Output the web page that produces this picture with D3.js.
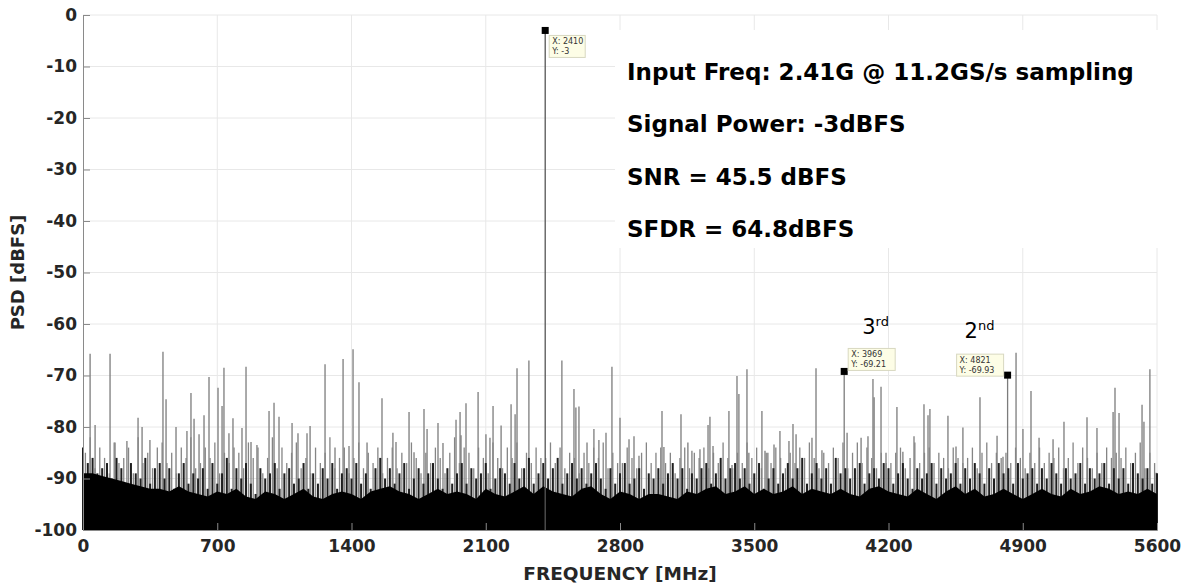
<html>
<head>
<meta charset="utf-8">
<script src="https://d3js.org/d3.v7.min.js"></script>
<title>PSD spectrum</title>
<style>
  body { margin: 0; background: #fff; }
  text { font-family: "DejaVu Sans", sans-serif; }
</style>
</head>
<body>
<svg id="chart"></svg>
<script>
    // x ticks (MHz) and y ticks (dBFS)
    var xTicks = [0, 700, 1400, 2100, 2800, 3500, 4200, 4900, 5600];
    var yTicks = [0, -10, -20, -30, -40, -50, -60, -70, -80, -90, -100];

    // fundamental
    var signalFreq = 2410;
    var signalDb = -3;

    // spurs
    var spurFreq = [37, 63, 141, 167, 229, 287, 308, 349, 417, 433, 485, 542, 563, 579, 605, 631, 657, 704, 725, 735,
        761, 782, 829, 850, 876, 907, 970, 996, 1022, 1090, 1121, 1168, 1184, 1262, 1314, 1356, 1387, 1408, 1439, 1481,
        1559, 1616, 1632, 1700, 1726, 1778, 1794, 1851, 1877, 1945, 1966, 1971, 1997, 2060, 2101, 2122, 2138, 2180, 2232, 2253,
        2263, 2325, 2497, 2560, 2570, 2586, 2628, 2664, 2690, 2727, 2758, 2800, 2847, 2873, 2899, 3019, 3029, 3118, 3154, 3175,
        3217, 3259, 3269, 3285, 3368, 3384, 3410, 3420, 3462, 3472, 3540, 3556, 3571, 3603, 3634, 3681, 3702, 3718, 3801, 3822,
        3853, 3969, 3984, 4057, 4093, 4119, 4125, 4161, 4187, 4244, 4275, 4333, 4385, 4406, 4416, 4510, 4552, 4588, 4677, 4766,
        4797, 4821, 4865, 4901, 4943, 4985, 5058, 5115, 5235, 5287, 5371, 5381, 5402, 5522, 5532, 5563, 5595];
    var spurDb = [-65.8, -79.6, -65.8, -83, -82.7, -78.2, -80, -82.5, -65.4, -74.6, -80, -80.8, -73.4, -78.4, -81.4, -77.7, -70.3, -72.4, -75.9, -68.5,
        -81.2, -78.3, -80.2, -68.3, -82.9, -83.5, -76.9, -75.3, -78, -79.2, -81.2, -81.2, -79.8, -67.8, -84, -66.8, -83.7, -64.9, -71.3, -83,
        -74.4, -81.1, -82.9, -77.1, -84.9, -76.5, -80.4, -79.2, -83.1, -78.6, -77.1, -81.6, -75.4, -73.2, -81.4, -82.1, -75.9, -79.7, -75.6, -77.5,
        -68.6, -67.1, -67.1, -72.6, -76.2, -76, -83, -80.4, -82.5, -81.1, -68.3, -78.2, -82.4, -81.8, -85.6, -76.9, -83.9, -77.5, -83, -84.6,
        -84.3, -79.6, -78, -83.7, -76.9, -87.4, -70.1, -73.6, -68.8, -85, -76.9, -84.6, -85, -83.4, -80.8, -82.7, -79.4, -81.4, -82.1, -68.6,
        -84.5, -69.21, -81.1, -82.1, -81.8, -70.7, -74.2, -72.2, -85, -76.1, -84.8, -81.8, -75.6, -77.7, -76.5, -77.8, -83.8, -80.1, -74.2, -81.7,
        -85.8, -69.93, -65.6, -80.4, -73, -82.1, -82.4, -79, -78.1, -80.2, -77.1, -72.4, -77.3, -75.7, -79, -68.8, -88.9];

    // lighter mid-level noise lines, every 25 MHz starting at 12.5 MHz
    var midDb = [-85, -82, -88, -84, -86, -89, -83, -87,
        -86, -84, -89, -82, -87, -85, -88, -84,
        -83, -87, -85, -89, -84, -86, -82, -88,
        -87, -84, -86, -83, -89, -85, -87, -84,
        -85, -88, -83, -86, -84, -89, -86, -82,
        -88, -84, -87, -85, -83, -88, -86, -89,
        -84, -87, -85, -82, -88, -86, -84, -89,
        -86, -83, -88, -85, -87, -84, -89, -86,
        -84, -88, -85, -87, -83, -86, -89, -85,
        -87, -84, -86, -89, -85, -82, -87, -84,
        -85, -88, -84, -86, -89, -83, -86, -88,
        -84, -86, -83, -88, -85, -87, -84, -86,
        -86, -83, -87, -84, -88, -85, -86, -89,
        -85, -87, -84, -86, -83, -88, -85, -87,
        -87, -84, -86, -88, -85, -83, -87, -85,
        -84, -87, -85, -89, -86, -84, -88, -85,
        -86, -84, -88, -85, -87, -83, -86, -88,
        -85, -87, -83, -86, -84, -88, -85, -87,
        -84, -86, -88, -85, -87, -84, -86, -83,
        -86, -88, -85, -87, -84, -86, -83, -88,
        -85, -83, -87, -84, -86, -88, -85, -87,
        -87, -85, -84, -88, -86, -83, -87, -85,
        -84, -87, -85, -86, -88, -84, -86, -87,
        -86, -84, -88, -85, -83, -87, -85, -86,
        -85, -87, -84, -86, -88, -85, -87, -84,
        -87, -85, -86, -84, -88, -86, -83, -87,
        -84, -86, -88, -85, -87, -84, -86, -85,
        -86, -84, -87, -85, -83, -88, -85, -87];

    // dense dark noise lines, every 25 MHz from 0 to 5600
    var grassDb = [-84, -87, -86, -89, -88, -87, -90, -86,
        -88, -91, -87, -89, -90, -86, -91, -88,
        -87, -90, -88, -92, -89, -87, -91, -89,
        -90, -88, -92, -87, -91, -89, -86, -92,
        -88, -90, -87, -91, -93, -88, -90, -89,
        -87, -92, -89, -88, -91, -90, -87, -92,
        -89, -91, -88, -90, -87, -92, -89, -88,
        -90, -87, -91, -89, -92, -88, -86, -90,
        -88, -91, -89, -87, -92, -90, -88, -91,
        -89, -87, -90, -92, -88, -91, -89, -87,
        -91, -88, -90, -89, -87, -92, -90, -88,
        -89, -91, -87, -90, -88, -86, -91, -89,
        -87, -90, -88, -86, -91, -89, -87, -90,
        -88, -91, -89, -87, -90, -92, -88, -91,
        -89, -87, -91, -90, -88, -92, -89, -90,
        -88, -91, -89, -87, -90, -88, -92, -89,
        -90, -88, -87, -91, -89, -86, -90, -88,
        -87, -90, -88, -91, -89, -87, -92, -90,
        -88, -91, -89, -87, -90, -88, -86, -91,
        -89, -87, -90, -88, -91, -86, -89, -88,
        -90, -88, -87, -91, -89, -88, -90, -87,
        -88, -91, -89, -87, -90, -92, -88, -90,
        -89, -87, -91, -88, -90, -89, -87, -91,
        -88, -90, -87, -89, -91, -88, -90, -87,
        -89, -88, -91, -87, -90, -89, -88, -91,
        -88, -90, -87, -89, -91, -88, -90, -89,
        -87, -91, -88, -90, -89, -87, -91, -88,
        -90, -88, -91, -87, -89, -90, -88, -91,
        -89];

    // solid noise floor, every 50 MHz from 0 to 5600
    var floorDb = [-89, -89, -89.5, -90, -90.5, -91, -91.5, -92, -92, -92.5, -91.5, -92.5, -93, -93.5, -92.5, -93, -92, -93.5, -94, -92.5,
        -93, -94, -93, -92, -93.5, -94, -93, -92.5, -93, -94, -92.5, -92, -91.5, -92.5, -93, -94, -93, -92, -93, -92.5,
        -93, -94, -92, -93, -93.5, -92.5, -91.5, -93, -91.5, -92.5, -93, -93.5, -92, -91.5, -93, -94, -92.5, -93, -94, -93,
        -93, -93.5, -94, -92.5, -93, -92, -91.5, -93, -92.5, -91.5, -93, -92, -93, -92.5, -91.5, -93, -92, -92.5, -93, -92,
        -93, -93.5, -92, -91.5, -92.5, -93, -93.5, -92, -93, -94, -92.5, -91.5, -93, -92, -93.5, -93, -92, -93, -94, -93,
        -92, -93, -93.5, -92, -93, -92.5, -91.5, -92, -93, -92.5, -93, -92, -93];

    // data tips on the fundamental and harmonics
    var tips = [
        {f: 2410, db: -3, label: ["X: 2410", "Y: -3"], dx: 4, dy: 5},
        {f: 3969, db: -69.21, label: ["X: 3969", "Y: -69.21"], dx: 4, dy: -23},
        {f: 4821, db: -69.93, label: ["X: 4821", "Y: -69.93"], dx: -51, dy: -21}
    ];
    var harmonics = [
        {f: 3969, db: -69.21, n: "3", sup: "rd", dx: 18},
        {f: 4821, db: -69.93, n: "2", sup: "nd", dx: -43}
    ];

    var notes = ["Input Freq: 2.41G @ 11.2GS/s sampling", "Signal Power: -3dBFS", "SNR = 45.5 dBFS", "SFDR = 64.8dBFS"];

    var W = 1194, H = 586;
    var svg = d3.select("#chart").attr("width", W).attr("height", H);

    var x = d3.scaleLinear().domain([0, 5600]).range([83, 1157]);
    var y = d3.scaleLinear().domain([-100, 0]).range([530, 15]);

    // grid
    var grid = svg.append("g").attr("stroke", "#e8e8e8").attr("stroke-width", 1);
    grid.selectAll(".gx").data(xTicks.slice(1)).enter().append("line")
        .attr("x1", function (d) {return x(d);}).attr("x2", function (d) {return x(d);})
        .attr("y1", y(0)).attr("y2", y(-100));
    grid.selectAll(".gy").data(yTicks.slice(0, -1)).enter().append("line")
        .attr("x1", x(0)).attr("x2", x(5600))
        .attr("y1", function (d) {return y(d);}).attr("y2", function (d) {return y(d);});

    // white box behind the notes
    svg.append("rect").attr("x", 615).attr("y", 30).attr("width", 560).attr("height", 218).attr("fill", "#fff");

    function stems(g, data, fx, fy, color, w) {
        g.selectAll("line").data(data).enter().append("line")
            .attr("x1", fx).attr("x2", fx)
            .attr("y1", y(-100))
            .attr("y2", fy)
            .attr("stroke", color).attr("stroke-width", w);
    }

    // spurs
    stems(svg.append("g"), spurFreq,
        function (d) {return x(d);}, function (d, i) {return y(spurDb[i]);}, "#7c7c7c", 1.3);

    // mid-level noise
    stems(svg.append("g"), midDb,
        function (d, i) {return x(12.5 + i * 25);}, function (d) {return y(d);}, "#858585", 1.3);

    // dark noise
    stems(svg.append("g"), grassDb,
        function (d, i) {return x(i * 25);}, function (d) {return y(d);}, "#1e1e1e", 2);

    // floor area
    var area = d3.area()
        .x(function (d, i) {return x(i * 50);})
        .y0(y(-100))
        .y1(function (d) {return y(d);});
    svg.append("path").datum(floorDb).attr("d", area).attr("fill", "#000");

    // fundamental
    svg.append("line")
        .attr("x1", x(signalFreq)).attr("x2", x(signalFreq))
        .attr("y1", y(-100)).attr("y2", y(signalDb))
        .attr("stroke", "#555").attr("stroke-width", 1.3);

    // axes
    var fmt = function (d) {return String(d);};
    var xAxis = d3.axisBottom(x).tickValues(xTicks).tickFormat(fmt).tickSize(-7).tickPadding(8);
    var yAxis = d3.axisLeft(y).tickValues(yTicks).tickFormat(fmt).tickSize(-7).tickPadding(6);

    var gx = svg.append("g").attr("transform", "translate(0," + y(-100) + ")").call(xAxis);
    var gy = svg.append("g").attr("transform", "translate(" + x(0) + ",0)").call(yAxis);
    [gx, gy].forEach(function (g) {
        g.select(".domain").attr("stroke", "#8a8a8a");
        g.selectAll(".tick line").attr("stroke", "#8a8a8a");
        g.selectAll(".tick text").attr("fill", "#262626")
            .attr("font-family", "DejaVu Sans").attr("font-weight", "bold").attr("font-size", 17);
    });
    gx.selectAll(".tick text").attr("dy", "0.8em");

    svg.append("text").attr("x", x(2800)).attr("y", 580).attr("text-anchor", "middle")
        .attr("font-weight", "bold").attr("font-size", 18.5).attr("fill", "#262626")
        .text("FREQUENCY [MHz]");
    svg.append("text").attr("transform", "translate(24," + y(-50) + ") rotate(-90)")
        .attr("text-anchor", "middle")
        .attr("font-weight", "bold").attr("font-size", 18).attr("fill", "#262626")
        .text("PSD [dBFS]");

    // data tips
    tips.forEach(function (t) {
        var px = x(t.f), py = y(t.db);
        svg.append("rect").attr("x", px - 3.5).attr("y", py - 3.5).attr("width", 7).attr("height", 7).attr("fill", "#000");
        var bx = px + t.dx, by = py + t.dy;
        var bw = t.label[1].length > 6 ? 47 : 36;
        svg.append("rect").attr("x", bx).attr("y", by).attr("width", bw).attr("height", 22)
            .attr("fill", "#fdfde6").attr("stroke", "#d8d8c0").attr("stroke-width", 1);
        t.label.forEach(function (s, k) {
            svg.append("text").attr("x", bx + 3).attr("y", by + 9 + k * 10)
                .attr("font-size", 8).attr("fill", "#333").text(s);
        });
    });

    // harmonic labels
    harmonics.forEach(function (h) {
        var t = svg.append("text").attr("x", x(h.f) + h.dx).attr("y", y(h.db) - 37)
            .attr("font-family", "Liberation Sans, Arial, sans-serif").attr("font-size", 21).attr("fill", "#000");
        t.append("tspan").text(h.n);
        t.append("tspan").attr("font-size", 13).attr("dy", -8).text(h.sup);
    });

    // notes
    svg.append("g").selectAll("text").data(notes).enter().append("text")
        .attr("x", 627)
        .attr("y", function (d, i) {return 80 + i * 52.3;})
        .attr("font-family", "Open Sans, sans-serif").attr("font-weight", "bold").attr("font-size", 23)
        .attr("fill", "#000")
        .text(function (d) {return d;});
</script>
</body>
</html>
